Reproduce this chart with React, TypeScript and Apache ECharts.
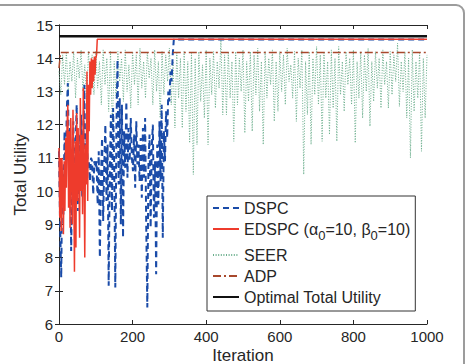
import React, { useEffect, useRef } from "react";
import * as echarts from "echarts";

// DSPC samples every 3 iterations until it converges
const dspcStep = 3;
const dspcValues = [
  11.2, 9.0, 7.4, 10.6, 9.3, 11.8, 10.2, 12.4, 13.25, 10.8, 11.9, 8.2, 10.5, 12.1, 9.6, 11.3,
  12.6, 9.4, 11.7, 10.1, 12.3, 9.8, 11.5, 13.2, 10.4, 11.6, 10.9, 10.9, 10.3, 11.0, 10.9, 9.9,
  10.9, 10.7, 10.9, 9.6, 11.2, 8.0, 10.4, 11.6, 9.1, 10.8, 12.0, 9.7, 11.4, 7.15, 10.6, 12.3,
  9.4, 12.5, 10.8, 7.1, 11.9, 13.95, 10.2, 12.8, 9.0, 12.6, 8.6, 11.8, 10.7, 12.7, 10.4, 11.9,
  10.9, 12.2, 11.0, 10.6, 11.7, 10.1, 12.1, 10.8, 11.4, 10.3, 11.6, 9.8, 11.9, 10.4, 12.2, 9.0,
  6.5, 10.8, 11.7, 8.9, 11.3, 12.0, 9.2, 10.9, 7.5, 11.4, 9.6, 12.1, 10.3, 12.6, 8.6, 11.8,
  10.9, 12.4, 11.6, 13.0, 12.7, 13.6, 13.3, 14.1, 14.56,
];
const dspcFinal = 14.56;

// EDSPC samples every 2 iterations until it converges
const edspcStep = 2;
const edspcValues = [
  11.3, 9.2, 11.0, 8.8, 11.0, 10.2, 8.7, 10.9, 9.4, 11.6, 10.1, 12.0, 12.6, 9.5, 11.8, 8.9,
  12.2, 10.6, 9.0, 12.45, 10.3, 7.57, 11.5, 8.3, 12.35, 9.7, 11.9, 10.4, 8.6, 12.8, 10.0, 11.7,
  9.3, 13.1, 10.8, 8.0, 11.4, 10.2, 13.6, 9.7, 13.2, 11.8, 13.9, 12.9, 14.0, 13.1, 13.95, 13.3,
  14.05, 13.5, 14.0, 14.1, 14.57,
];
const edspcFinal = 14.57;

// SEER samples every 5 iterations
const seerStep = 5;
const seerValues = [
  13.6, 12.9, 14.1, 13.2, 14.2, 12.95, 13.9, 13.3, 14.2, 12.8,
  14.0, 13.4, 14.25, 13.0, 13.8, 12.7, 14.2, 13.3, 14.1, 12.9,
  14.2, 13.1, 13.9, 12.6, 14.25, 13.2, 14.0, 12.4, 14.2, 11.9,
  13.9, 12.8, 14.2, 13.3, 14.0, 12.7, 14.25, 13.0, 13.8, 12.5,
  14.2, 13.2, 14.1, 12.6, 14.3, 13.1, 13.9, 12.8, 14.2, 13.4,
  14.0, 12.6, 14.25, 13.0, 13.9, 12.2, 14.2, 12.9, 14.1, 13.3,
  14.3, 12.6, 13.9, 11.9, 14.2, 12.8, 14.0, 11.9, 14.2, 12.4,
  13.9, 11.45, 14.2, 10.5, 14.0, 11.4, 14.2, 12.7, 13.8, 12.2,
  14.25, 11.4, 14.0, 12.9, 14.2, 12.5, 13.9, 13.1, 14.55, 12.3,
  14.1, 12.3, 14.2, 12.8, 13.9, 11.5, 14.2, 12.6, 14.0, 13.0,
  14.25, 11.75, 13.9, 12.7, 14.2, 11.8, 14.1, 12.9, 14.3, 12.4,
  13.9, 11.4, 14.2, 12.8, 14.0, 13.2, 14.25, 12.1, 13.9, 12.4,
  14.2, 13.0, 14.1, 12.6, 14.3, 13.3, 13.8, 12.8, 14.2, 12.1,
  14.0, 13.1, 14.25, 10.5, 13.9, 12.3, 14.2, 11.4, 14.0, 12.9,
  14.35, 12.6, 14.1, 11.5, 14.2, 12.8, 13.9, 11.7, 14.25, 12.5,
  14.0, 11.5, 14.35, 12.9, 13.9, 12.4, 14.2, 13.2, 14.0, 12.6,
  14.25, 11.45, 13.9, 12.8, 14.2, 12.2, 14.1, 13.0, 14.3, 11.95,
  13.9, 12.7, 14.2, 13.1, 14.0, 12.5, 14.25, 13.2, 13.9, 12.5,
  14.2, 12.9, 14.1, 13.3, 14.45, 12.55, 13.9, 13.0, 14.2, 12.2,
  14.0, 11.0, 14.25, 12.4, 13.9, 12.8, 14.2, 11.2, 14.0, 12.2,
  14.1,
];

// ADP settles almost immediately
const adpIterations = [0, 4, 1000];
const adpValues = [13.7, 14.17, 14.17];

const optimalIterations = [0, 1000];
const optimalValues = [14.66, 14.66];

const xTicks = { min: 0, max: 1000, interval: 200 };
const yTicks = { min: 6, max: 15, interval: 1 };

const seriesNames = [
  "DSPC",
  "EDSPC (α0=10, β0=10)",
  "SEER",
  "ADP",
  "Optimal Total Utility",
];

const FONT = "'Liberation Sans', Arial, Helvetica, sans-serif";
const AXIS_COLOR = "#262626";

function stepped(values: number[], step: number, final?: number): number[][] {
  const pts = values.map((v, i) => [i * step, v]);
  if (final !== undefined) pts.push([xTicks.max, final]);
  return pts;
}

function paired(xs: number[], ys: number[]): number[][] {
  return xs.map((x, i) => [x, ys[i]]);
}

export default function App() {
  const ref = useRef<HTMLDivElement>(null);

  useEffect(() => {
    if (!ref.current) return;
    const chart = echarts.init(ref.current, undefined, { renderer: "svg" });

    const baseAxis = {
      type: "value" as const,
      axisLine: { show: true, lineStyle: { color: AXIS_COLOR, width: 1 } },
      axisTick: { show: true, inside: true, length: 4, lineStyle: { color: AXIS_COLOR } },
      splitLine: { show: false },
    };

    chart.setOption({
      animation: false,
      backgroundColor: "#ffffff",
      textStyle: { fontFamily: FONT },
      graphic: [
        {
          type: "rect",
          silent: true,
          z: -10,
          shape: { x: -20, y: 5, width: 484, height: 400, r: 8 },
          style: { fill: "none", stroke: "#9c9c9c", lineWidth: 2 },
        },
      ],
      grid: {
        left: 59,
        right: 41,
        top: 25,
        bottom: 40,
        containLabel: false,
        outerBoundsMode: "none",
      },
      xAxis: [
        {
          ...baseAxis,
          ...xTicks,
          position: "bottom",
          name: "Iteration",
          nameLocation: "middle",
          nameGap: 23,
          nameMoveOverlap: false,
          nameTextStyle: { fontSize: 17, color: AXIS_COLOR, fontFamily: FONT },
          axisLabel: {
            fontSize: 15,
            color: AXIS_COLOR,
            fontFamily: FONT,
            margin: 5,
            formatter: (v: number) => String(v),
          },
        },
        {
          ...baseAxis,
          ...xTicks,
          position: "top",
          axisLabel: { show: false },
        },
      ],
      yAxis: [
        {
          ...baseAxis,
          ...yTicks,
          position: "left",
          name: "Total Utility",
          nameLocation: "middle",
          nameGap: 30,
          nameMoveOverlap: false,
          nameTextStyle: { fontSize: 17, color: AXIS_COLOR, fontFamily: FONT },
          axisLabel: { fontSize: 15, color: AXIS_COLOR, fontFamily: FONT, margin: 6 },
        },
        {
          ...baseAxis,
          ...yTicks,
          position: "right",
          axisLabel: { show: false },
        },
      ],
      legend: {
        show: true,
        orient: "vertical",
        left: 207,
        top: 196,
        data: seriesNames,
        selectedMode: false,
        backgroundColor: "#ffffff",
        borderColor: "#333333",
        borderWidth: 1,
        borderRadius: 0,
        padding: [4, 5, 6, 5],
        itemGap: 5,
        itemWidth: 26,
        itemHeight: 14,
        itemStyle: { opacity: 0 },
        formatter: (name: string) =>
          name.startsWith("EDSPC") ? "EDSPC (α{sub|0}=10, β{sub|0}=10)" : name,
        textStyle: {
          fontSize: 16,
          color: AXIS_COLOR,
          fontFamily: FONT,
          rich: {
            sub: { fontSize: 13, fontFamily: FONT, color: AXIS_COLOR, padding: [13, 0, 0, 0] },
          },
        },
      },
      series: [
        {
          name: seriesNames[2],
          type: "line",
          data: stepped(seerValues, seerStep),
          symbol: "none",
          z: 1,
          lineStyle: { color: "#6aae8c", width: 1, type: [1, 1.6] },
          itemStyle: { color: "#6aae8c" },
        },
        {
          name: seriesNames[0],
          type: "line",
          data: stepped(dspcValues, dspcStep, dspcFinal),
          symbol: "none",
          z: 2,
          lineStyle: { color: "#1a4ba8", width: 2, type: [6, 4] },
          itemStyle: { color: "#1a4ba8" },
        },
        {
          name: seriesNames[1],
          type: "line",
          data: stepped(edspcValues, edspcStep, edspcFinal),
          symbol: "none",
          z: 3,
          lineStyle: { color: "#ee3b2c", width: 1.5 },
          itemStyle: { color: "#ee3b2c" },
        },
        {
          name: seriesNames[3],
          type: "line",
          data: paired(adpIterations, adpValues),
          symbol: "none",
          z: 4,
          lineStyle: { color: "#a8482c", width: 1.5, type: [8, 3, 2, 3] },
          itemStyle: { color: "#a8482c" },
        },
        {
          name: seriesNames[4],
          type: "line",
          data: paired(optimalIterations, optimalValues),
          symbol: "none",
          z: 5,
          lineStyle: { color: "#111111", width: 2.5 },
          itemStyle: { color: "#111111" },
        },
      ],
    });

    return () => chart.dispose();
  }, []);

  return (
    <div
      ref={ref}
      style={{ position: "fixed", left: 0, top: 0, width: 468, height: 364, background: "#fff" }}
    />
  );
}
